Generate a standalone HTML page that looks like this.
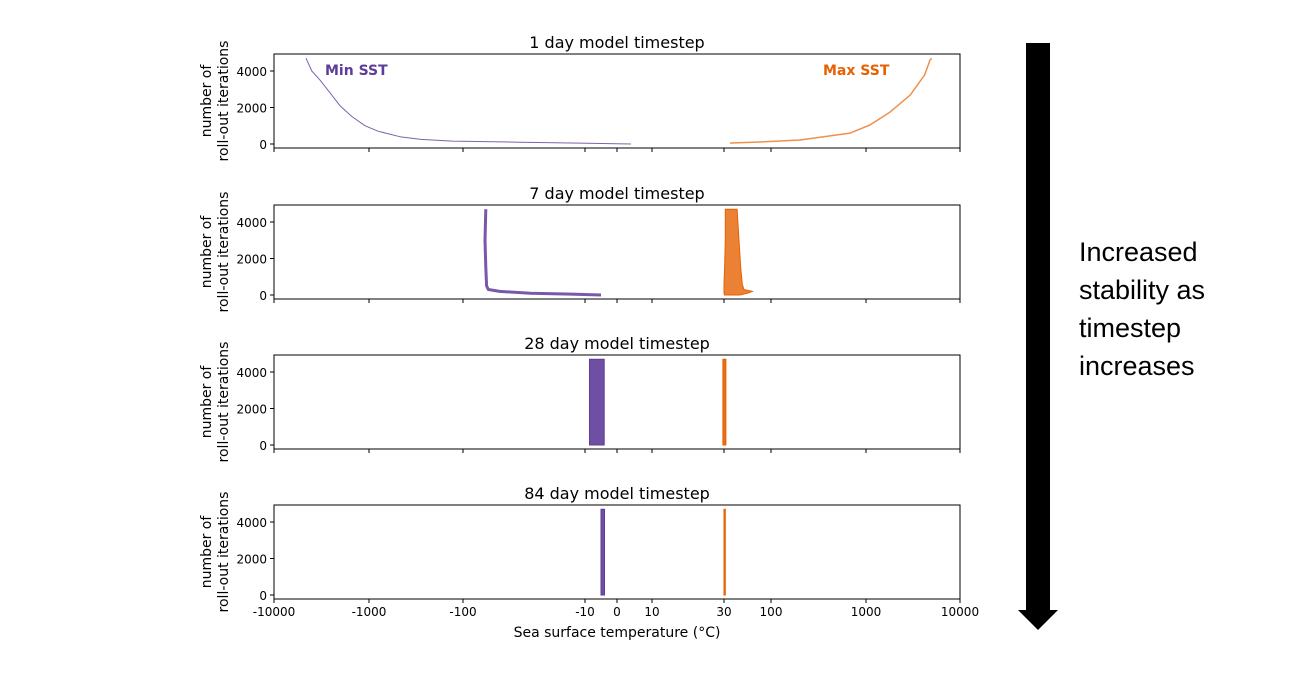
<!DOCTYPE html>
<html><head><meta charset="utf-8"><style>
body{margin:0;background:#fff;width:1316px;height:688px;overflow:hidden;font-family:"DejaVu Sans",sans-serif}
svg text{font-family:"DejaVu Sans",sans-serif}
</style></head><body>
<svg id="c" width="1316" height="688" xmlns="http://www.w3.org/2000/svg"></svg>
<script>
// ---- data ----
const tickVals=[-10000,-1000,-100,-10,0,10,30,100,1000,10000];
const tickLabels=["-10000","-1000","-100","-10","0","10","30","100","1000","10000"];
const yTicks=[0,2000,4000];
const panelTitles=["1 day model timestep","7 day model timestep","28 day model timestep","84 day model timestep"];
// 1 day
const d1Iter=[4700,4000,3500,2800,2100,1500,1000,700,400,250,160,100,50,0];
const d1Min=[-4600,-4000,-3280,-2570,-2020,-1510,-1100,-800,-470,-280,-130,-34,-11,4];
const d1MaxIter=[4700,4600,3780,2680,1750,1040,600,220,110,55,40];
const d1Max=[5000,4800,4200,2950,1800,1100,680,202,75,36,35];
// 7 day
const d7MinIter=[4700,3000,1500,500,300,200,100,50,0];
const d7Min=[-65,-66,-65,-64,-62,-50,-28,-13,-5];
const d7MaxIter=[4700,3000,1500,600,300,200,100,0];
const d7MaxLo=[31,31,30.5,30,30,30,30,30.5];
const d7MaxHi=[42,44,46,48,50,62,55,45];
// 28 day
const d28Iter=[4700,0];
const d28MinLo=[-8.6,-8.6];
const d28MinHi=[-4,-4];
const d28MaxLo=[29.5,29.5];
const d28MaxHi=[31.5,31.5];
// 84 day
const d84Iter=[4700,0];
const d84MinLo=[-5,-5];
const d84MinHi=[-3.9,-3.9];
const d84MaxLo=[30,30];
const d84MaxHi=[31,31];

const tickPx=[274,369,463,585,617,652,724,771,866,960];
const PUR="#5e3c99",ORA="#e66101";
function X(v){
  for(let i=0;i<tickVals.length-1;i++){
    const a=tickVals[i],b=tickVals[i+1];
    if(v>=a&&v<=b||i==tickVals.length-2){
      let f;
      if(a*b>0) f=(Math.log10(Math.abs(v))-Math.log10(Math.abs(a)))/(Math.log10(Math.abs(b))-Math.log10(Math.abs(a)));
      else f=(v-a)/(b-a);
      return tickPx[i]+f*(tickPx[i+1]-tickPx[i]);
    }
  }
  return tickPx[0];
}
const svg=document.getElementById('c');
const NS="http://www.w3.org/2000/svg";
function el(t,a,p){const e=document.createElementNS(NS,t);for(const k in a)e.setAttribute(k,a[k]);(p||svg).appendChild(e);return e;}
const tops=[54,205,355,505],H=94;
tops.forEach((top,pi)=>{
  const g=el('g',{});
  
  
  const bot=top+H;
  const Y=v=>bot-4-v*(73/4000);
  const t=el('text',{x:617,y:top-6,'text-anchor':'middle','font-size':16},g);t.textContent=panelTitles[pi];
  
  const yl=el('text',{transform:`translate(228,${top+47}) rotate(-90)`,'text-anchor':'middle','font-size':14},g);
  
  const s1=el('tspan',{x:0,dy:-17},yl);s1.textContent='number of';
  const s2=el('tspan',{x:0,dy:17},yl);s2.textContent='roll-out iterations';
  yTicks.forEach(v=>{
    el('line',{x1:270,x2:274,y1:Y(v),y2:Y(v),stroke:'#000'},g);
    const tl=el('text',{x:267,y:Y(v)+5,'text-anchor':'end','font-size':12},g);tl.textContent=v;
    
  });
  tickVals.forEach((v,i)=>{
    el('line',{x1:X(v),x2:X(v),y1:bot,y2:bot+4,stroke:'#000'},g);
    if(pi==3){const tl=el('text',{x:X(v),y:bot+17,'text-anchor':'middle','font-size':12},g);tl.textContent=tickLabels[i];
      }
  });
  const line=(vals,iters,col,w,op)=>el('path',{d:vals.map((v,i)=>(i?'L':'M')+X(v).toFixed(1)+','+Y(iters[i]).toFixed(1)).join(''),fill:'none',stroke:col,'stroke-width':w,'stroke-opacity':op||1,'stroke-linejoin':'round'},g);
  const band=(lo,hi,iters,col,op)=>{
    let d=lo.map((v,i)=>(i?'L':'M')+X(v).toFixed(1)+','+Y(iters[i]).toFixed(1)).join('');
    for(let i=hi.length-1;i>=0;i--)d+='L'+X(hi[i]).toFixed(1)+','+Y(iters[i]).toFixed(1);
    return el('path',{d:d+'Z',fill:col,stroke:col,'stroke-width':1,'fill-opacity':op||0.85},g);
  };
  let a,b;
  if(pi==0){a=line(d1Min,d1Iter,PUR,1,0.8);b=line(d1Max,d1MaxIter,ORA,1.5,0.7);
    const m=el('text',{x:325,y:75,'font-size':14,'font-weight':'bold',fill:PUR},g);m.textContent='Min SST';
    
    const n=el('text',{x:823,y:75,'font-size':14,'font-weight':'bold',fill:ORA},g);n.textContent='Max SST';
    }
  if(pi==1){a=line(d7Min,d7MinIter,PUR,3,0.85);b=band(d7MaxLo,d7MaxHi,d7MaxIter,ORA,0.8);}
  if(pi==2){a=band(d28MinLo,d28MinHi,d28Iter,PUR,0.9);b=band(d28MaxLo,d28MaxHi,d28Iter,ORA,0.9);}
  if(pi==3){a=band(d84MinLo,d84MinHi,d84Iter,PUR,0.9);b=band(d84MaxLo,d84MaxHi,d84Iter,ORA,0.9);}
  
  
  const f=el('rect',{x:274,y:top,width:686,height:H,fill:'none',stroke:'#000','stroke-width':1},g);
  
});
const xt=el('text',{x:617,y:637,'text-anchor':'middle','font-size':14});xt.textContent='Sea surface temperature (°C)';

const ar=el('path',{d:'M1026,43 H1050 V610 H1058 L1038,630 L1018,610 H1026 Z',fill:'#000'});

const tx=el('text',{'font-size':27,fill:'#000','style':'font-family:"Liberation Sans",sans-serif'});

["Increased","stability as","timestep","increases"].forEach((s,i)=>{const t=el('tspan',{x:1079,y:261+i*38},tx);t.textContent=s;});
</script>
</body></html>
